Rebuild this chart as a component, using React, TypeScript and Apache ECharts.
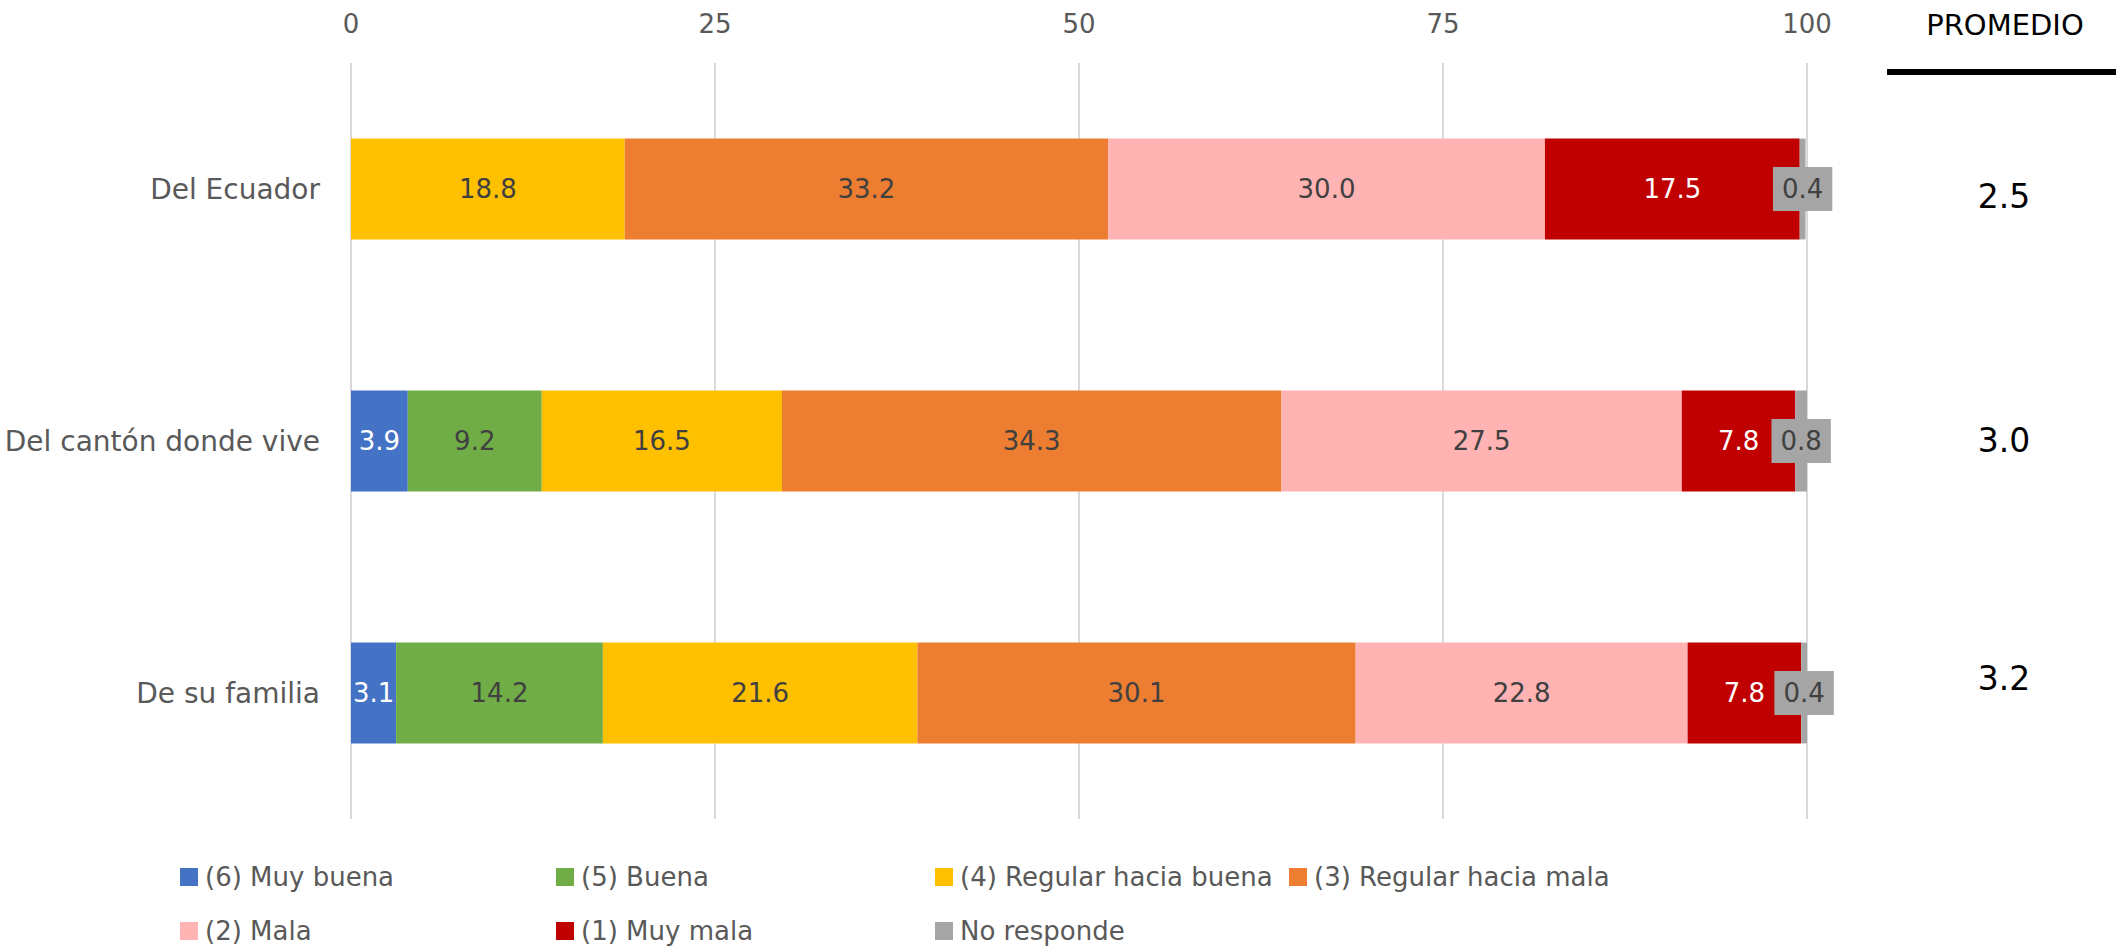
import React, { useEffect, useRef } from "react";
import * as echarts from "echarts";

const categories = ["Del Ecuador", "Del cantón donde vive", "De su familia"];
const seriesNames = [
  "(6) Muy buena",
  "(5) Buena",
  "(4) Regular hacia buena",
  "(3) Regular hacia mala",
  "(2) Mala",
  "(1) Muy mala",
  "No responde",
];
const muyBuena = [null, 3.9, 3.1];
const buena = [null, 9.2, 14.2];
const regularBuena = [18.8, 16.5, 21.6];
const regularMala = [33.2, 34.3, 30.1];
const mala = [30.0, 27.5, 22.8];
const muyMala = [17.5, 7.8, 7.8];
const noResponde = [0.4, 0.8, 0.4];
const promedio = ["2.5", "3.0", "3.2"];
const xTicks = [0, 25, 50, 75, 100];

const colors = ["#4472C4", "#70AD47", "#FFC000", "#ED7D31", "#FFB3B3", "#C00000", "#A5A5A5"];
const labelColors = ["#FFFFFF", "#404040", "#404040", "#404040", "#404040", "#FFFFFF", "#404040"];
const FONT = "DejaVu Sans";

export default function App() {
  const ref = useRef<HTMLDivElement>(null);
  useEffect(() => {
    if (!ref.current) return;
    const chart = echarts.init(ref.current, null, { renderer: "svg" });
    const values = [muyBuena, buena, regularBuena, regularMala, mala, muyMala, noResponde];
    const series = values.map((arr, i) => ({
      name: seriesNames[i],
      type: "bar",
      stack: "total",
      barWidth: "40%",
      yAxisIndex: 0,
      data: arr,
      itemStyle: { color: colors[i] },
      label: {
        show: true,
        position: "inside",
        fontFamily: FONT,
        fontSize: 26,
        color: labelColors[i],
        formatter: (p: any) => (p.value == null || p.value === 0 ? "" : Number(p.value).toFixed(1)),
        ...(i === 6 ? { backgroundColor: "#A5A5A5", padding: [10, 9, 8, 9] } : {}),
      },
    }));
    const legendPos = [
      [180, 864],
      [556, 864],
      [935, 864],
      [1289, 864],
      [180, 918],
      [556, 918],
      [935, 918],
    ];
    const legends = seriesNames.map((n, i) => ({
      data: [n],
      left: legendPos[i][0],
      top: legendPos[i][1],
      padding: 0,
      icon: "rect",
      itemWidth: 18,
      itemHeight: 18,
      textStyle: { fontFamily: FONT, fontSize: 26, color: "#595959", padding: [0, 0, 0, 2] },
      selectedMode: false,
    }));
    const promStyle = { fontFamily: FONT, fontSize: 33, color: "#000000" };
    chart.setOption({
      animation: false,
      textStyle: { fontFamily: FONT },
      grid: { left: 351, right: 309, top: 63, height: 756, containLabel: false },
      legend: legends,
      xAxis: {
        type: "value",
        position: "top",
        min: xTicks[0],
        max: xTicks[xTicks.length - 1],
        interval: 25,
        axisLine: { show: false },
        axisTick: { show: false },
        axisLabel: { fontFamily: FONT, fontSize: 26, color: "#595959", margin: 26 },
        splitLine: { lineStyle: { color: "#D9D9D9", width: 2 } },
      },
      yAxis: [
        {
          type: "category",
          data: categories,
          inverse: true,
          axisLine: { show: false },
          axisTick: { show: false },
          axisLabel: { fontFamily: FONT, fontSize: 28, color: "#595959", margin: 31 },
        },
        {
          type: "category",
          data: categories,
          inverse: true,
          position: "right",
          axisLine: { show: false },
          axisTick: { show: false },
          axisLabel: {
            ...promStyle,
            align: "center",
            margin: 197,
            formatter: (_v: string, idx: number) => `{p${idx}|${promedio[idx]}}`,
            rich: {
              p0: { ...promStyle, padding: [14, 0, 0, 0] },
              p1: { ...promStyle, padding: [0, 0, 2, 0] },
              p2: { ...promStyle, padding: [0, 0, 30, 0] },
            },
          },
        },
      ],
      graphic: [
        {
          type: "text",
          x: 2005,
          y: 25,
          style: {
            text: "PROMEDIO",
            fontFamily: FONT,
            fontSize: 29,
            fill: "#000000",
            align: "center",
            verticalAlign: "middle",
          },
        },
        {
          type: "line",
          shape: { x1: 1887, y1: 72, x2: 2116, y2: 72 },
          style: { stroke: "#000000", lineWidth: 6 },
        },
      ],
      series,
    });
    return () => chart.dispose();
  }, []);
  return (
    <div
      ref={ref}
      style={{ position: "absolute", left: 0, top: 0, width: 2116, height: 950, background: "#fff" }}
    />
  );
}
